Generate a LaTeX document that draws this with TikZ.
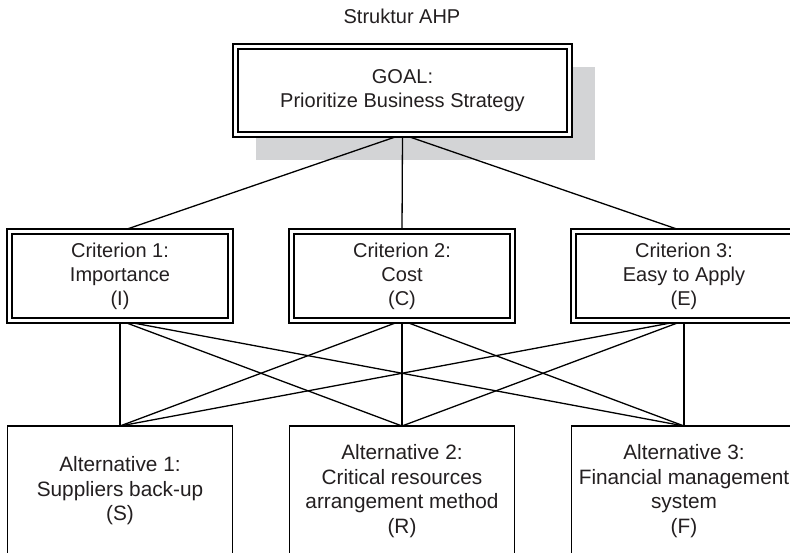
\documentclass[tikz,border=0pt]{standalone}
\usepackage{fontspec}
\setmainfont{Liberation Sans}
\definecolor{shadowgray}{RGB}{211,212,214}
\definecolor{inkgray}{RGB}{35,31,32}
\pgfdeclarelayer{bg}
\pgfsetlayers{bg,main}
\tikzset{
  dblbox/.style={draw=black, line width=1.3pt, double=white, double distance=3.7pt,
    fill=white, inner sep=0pt, outer sep=0pt, align=center, text=inkgray,
    minimum width=221pt, minimum height=89pt,
    font=\fontsize{20}{24}\selectfont},
  goalbox/.style={dblbox, minimum width=334pt, minimum height=88pt},
  altbox/.style={draw=black, line width=1.3pt, fill=white, inner sep=0pt, outer sep=0pt,
    align=center, text=inkgray, minimum width=225pt, minimum height=130pt,
    font=\fontsize{20.8}{24.5}\selectfont},
  link/.style={draw=black, line width=1.3pt},
  titletext/.style={text=inkgray, font=\fontsize{20}{24}\selectfont, inner sep=0pt}
}
\begin{document}
\begin{tikzpicture}[x=1pt,y=-1pt]
\useasboundingbox (0,0) rectangle (790,553);
\node[titletext] (title) at (402,16) {Struktur AHP};
\node[goalbox] (goal) at (402.5,90.5) {GOAL:\\Prioritize Business Strategy};
\node[dblbox] (c1) at (120,276) {Criterion 1:\\Importance\\(I)};
\node[dblbox] (c2) at (402,276) {Criterion 2:\\Cost\\(C)};
\node[dblbox] (c3) at (684,276) {Criterion 3:\\Easy to Apply\\(E)};
\node[altbox] (a1) at (120,491) {Alternative 1:\\Suppliers back-up\\(S)};
\node[altbox] (a2) at (402,491) {Alternative 2:\\Critical resources\\arrangement method\\(R)};
\node[altbox] (a3) at (684,491) {Alternative 3:\\Financial management\\system\\(F)};
\begin{pgfonlayer}{bg}
  \fill[shadowgray] (256,67) rectangle (595,160);
  \foreach \c in {c1,c2,c3} {\draw[link] (goal.south) -- (\c.north);}
  \foreach \c in {c1,c2,c3} {
    \foreach \a in {a1,a2,a3} {\draw[link] (\c.south) -- (\a.north);}
  }
\end{pgfonlayer}
\end{tikzpicture}
\end{document}
